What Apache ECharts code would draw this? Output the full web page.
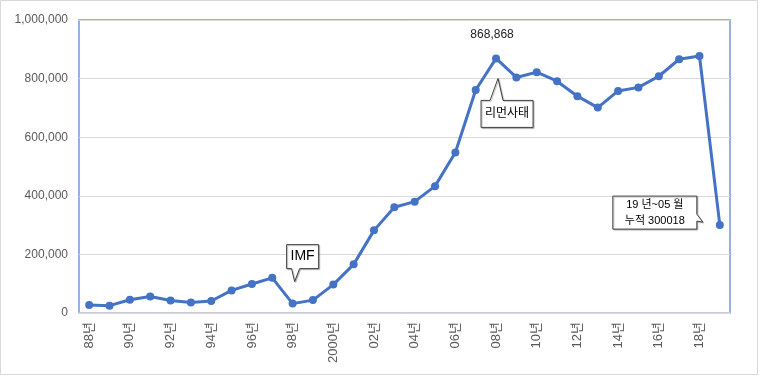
<!DOCTYPE html>
<html>
<head>
<meta charset="utf-8">
<script src="https://cdn.jsdelivr.net/npm/echarts@6/dist/echarts.min.js"></script>
<style>
  html, body { margin: 0; padding: 0; background: #fff; }
  #chart { width: 760px; height: 376px; }
</style>
</head>
<body>
<div id="chart"></div>
<script>
// 연도 (88년 ~ 19년)
const years = ['88년', '89년', '90년', '91년', '92년', '93년', '94년', '95년', '96년', '97년',
  '98년', '99년', '2000년', '01년', '02년', '03년', '04년', '05년', '06년', '07년',
  '08년', '09년', '10년', '11년', '12년', '13년', '14년', '15년', '16년', '17년', '18년', '19년'];

// 연도별 값
const counts = [27000, 25000, 45000, 56000, 43000, 36000, 41000, 77000, 99000, 120000,
  32000, 44000, 97000, 166000, 282000, 361000, 380000, 433000, 548000, 761000,
  868868, 804000, 822000, 791000, 740000, 701000, 758000, 770000, 808000, 866000, 877000, 300018];

// y축 눈금
const yTicks = [0, 200000, 400000, 600000, 800000, 1000000];

// 말풍선 메모
const peakIdx = 20;   // 08년
const imfIdx = 10;    // 98년
const lastIdx = 31;   // 19년
const imfText = 'IMF';
const lehmanText = '리먼사태';
const lastText = '19 년~05 월\n누적 300018';

const font = "'Liberation Sans', 'Noto Sans CJK KR', sans-serif";
const chart = echarts.init(document.getElementById('chart'));

const option = {
  animation: false,
  grid: {
    left: 79, right: 30, top: 20, bottom: 63,
    show: true, borderColor: '#7396d8', borderWidth: 1.5
  },
  xAxis: {
    type: 'category',
    data: years,
    boundaryGap: true,
    axisLine: { lineStyle: { color: '#d9d9d9', width: 1.5 } },
    axisTick: { show: false },
    axisLabel: {
      interval: 1, rotate: 90, margin: 9,
      color: '#595959', fontSize: 13, fontFamily: font
    }
  },
  yAxis: {
    type: 'value',
    min: yTicks[0], max: yTicks[yTicks.length - 1], interval: 200000,
    axisLine: { show: false },
    axisTick: { show: false },
    splitLine: { lineStyle: { color: '#d9d9d9', width: 1 } },
    axisLabel: {
      margin: 11, color: '#595959', fontSize: 12, fontFamily: font,
      formatter: v => v.toLocaleString('en-US')
    }
  },
  series: [{
    type: 'line',
    data: counts.map((v, i) => i === peakIdx
      ? { value: v, label: { show: true, position: 'top', distance: 14, offset: [-4, 0],
          formatter: p => p.value.toLocaleString('en-US'), color: '#222', fontSize: 12, fontFamily: font } }
      : v),
    symbol: 'circle',
    symbolSize: 8,
    lineStyle: { color: '#4472c4', width: 3 },
    itemStyle: { color: '#4472c4' }
  }]
};
chart.setOption(option);

// 말풍선 그리기
function callout(idx, box, tip, base, side, text, fontSize) {
  const p = chart.convertToPixel({ seriesIndex: 0 }, [idx, counts[idx]]);
  const x0 = p[0] + box[0], x1 = p[0] + box[1], y0 = p[1] + box[2], y1 = p[1] + box[3];
  const tx = p[0] + tip[0], ty = p[1] + tip[1];
  let pts;
  if (side === 'bottom') {
    pts = [[x0, y0], [x1, y0], [x1, y1], [p[0] + base[1], y1], [tx, ty], [p[0] + base[0], y1], [x0, y1]];
  } else if (side === 'top') {
    pts = [[x0, y0], [p[0] + base[0], y0], [tx, ty], [p[0] + base[1], y0], [x1, y0], [x1, y1], [x0, y1]];
  } else {
    pts = [[x0, y0], [x1, y0], [x1, p[1] + base[0]], [tx, ty], [x1, p[1] + base[1]], [x1, y1], [x0, y1]];
  }
  return [{
    type: 'polygon',
    shape: { points: pts },
    style: { fill: '#fff', stroke: '#404040', lineWidth: 1,
      shadowColor: 'rgba(0,0,0,0.25)', shadowOffsetX: 1, shadowOffsetY: 1, shadowBlur: 1 },
    z: 10
  }, {
    type: 'text',
    x: (x0 + x1) / 2, y: (y0 + y1) / 2,
    style: { text: text, fill: '#000', fontSize: fontSize, fontFamily: font,
      align: 'center', verticalAlign: 'middle', lineHeight: 16 },
    z: 11
  }];
}

chart.setOption({
  graphic: [
    { type: 'rect', shape: { x: 0.5, y: 0.5, width: 757, height: 374 },
      style: { fill: 'none', stroke: '#d9d9d9', lineWidth: 1 }, z: 0 },
    ...callout(imfIdx, [-6, 26, -59, -35], [2, -22], [-1, 7], 'bottom', imfText, 14),
    ...callout(peakIdx, [-15, 37, 42, 69], [2, 20], [-6, 7], 'top', lehmanText, 12),
    ...callout(lastIdx, [-107, -23, -29, 4], [-17, -3], [-11, -4], 'right', lastText, 11)
  ]
});
</script>
</body>
</html>
